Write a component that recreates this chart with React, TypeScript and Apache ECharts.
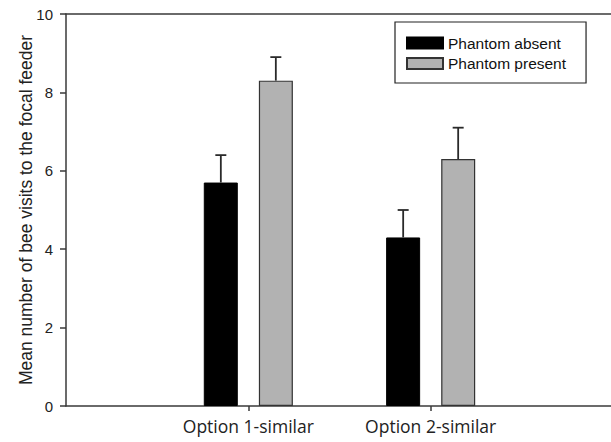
import React, { useEffect, useRef } from "react";
import * as echarts from "echarts";

const categories = ["", "Option 1-similar", "Option 2-similar", ""];
const seriesNames = ["Phantom absent", "Phantom present"];
const absentMeans = [5.7, 4.3];
const presentMeans = [8.3, 6.3];
const absentErr = [0.7, 0.7];
const presentErr = [0.6, 0.8];
const yTicks = [0, 2, 4, 6, 8, 10];

export default function App() {
  const ref = useRef<HTMLDivElement>(null);
  useEffect(() => {
    if (!ref.current) return;
    const chart = echarts.init(ref.current, undefined, { renderer: "svg" });
    const pad = (arr: number[]) => ["-", ...arr, "-"];
    const errData: number[][] = [];
    absentMeans.forEach((m, i) => errData.push([i + 1, m, m + absentErr[i], -1]));
    presentMeans.forEach((m, i) => errData.push([i + 1, m, m + presentErr[i], 1]));
    const axisColor = "#3a3a3a";
    chart.setOption({
      animation: false,
      backgroundColor: "#fff",
      grid: {
        left: 66,
        right: 87,
        top: 14,
        bottom: 36,
        show: false,
        outerBoundsMode: "none",
        containLabel: false,
      },
      legend: {
        orient: "vertical",
        left: 395,
        top: 22,
        data: seriesNames,
        icon: "rect",
        itemWidth: 36,
        itemHeight: 11,
        itemGap: 4.5,
        padding: [13, 20, 11.5, 11],
        borderColor: "#222",
        borderWidth: 1.2,
        textStyle: {
          fontFamily: "Liberation Sans, Arial",
          fontSize: 15.5,
          lineHeight: 15,
          color: "#111",
        },
      },
      xAxis: [
        {
          type: "category",
          data: categories,
          boundaryGap: false,
          axisLine: { lineStyle: { color: axisColor, width: 1.5 } },
          axisTick: {
            show: true,
            length: 5,
            interval: (idx: number) => idx === 1 || idx === 2,
            lineStyle: { color: axisColor, width: 1.5 },
          },
          axisLabel: {
            interval: 0,
            margin: 11,
            fontFamily: "Open Sans",
            fontSize: 17.5,
            color: "#222",
          },
          splitLine: { show: false },
        },
        {
          type: "category",
          position: "top",
          data: categories,
          boundaryGap: false,
          axisLine: { show: true, lineStyle: { color: axisColor, width: 1.5 } },
          axisTick: { show: false },
          axisLabel: { show: false },
          splitLine: { show: false },
        },
      ],
      yAxis: {
        type: "value",
        min: yTicks[0],
        max: yTicks[yTicks.length - 1],
        interval: 2,
        name: "Mean number of bee visits to the focal feeder",
        nameLocation: "middle",
        nameGap: 31,
        nameMoveOverlap: false,
        nameTextStyle: {
          fontFamily: "Liberation Sans, Arial",
          fontSize: 17.5,
          color: "#222",
        },
        axisLine: { show: true, lineStyle: { color: axisColor, width: 1.5 } },
        axisTick: { show: true, length: 6, lineStyle: { color: axisColor, width: 1.5 } },
        axisLabel: {
          margin: 13,
          fontFamily: "Liberation Sans, Arial",
          fontSize: 15,
          color: "#222",
        },
        splitLine: { show: false },
      },
      series: [
        {
          name: seriesNames[0],
          type: "bar",
          data: pad(absentMeans),
          barWidth: 34,
          barGap: "62%",
          itemStyle: { color: "#000", borderColor: "#000", borderWidth: 1 },
        },
        {
          name: seriesNames[1],
          type: "bar",
          data: pad(presentMeans),
          barWidth: 34,
          barGap: "62%",
          itemStyle: { color: "#b2b2b2", borderColor: "#333", borderWidth: 1.2 },
        },
        {
          type: "custom",
          data: errData,
          z: 10,
          renderItem: (params: any, api: any) => {
            const c = api.value(0);
            const base = api.coord([c, api.value(1)]);
            const top = api.coord([c, api.value(2)]);
            const x = base[0] + api.value(3) * 27.5;
            const half = 5.5;
            const style = { stroke: "#2a2a2a", lineWidth: 1.8 };
            return {
              type: "group",
              children: [
                { type: "line", shape: { x1: x, y1: base[1], x2: x, y2: top[1] }, style },
                { type: "line", shape: { x1: x - half, y1: top[1], x2: x + half, y2: top[1] }, style },
              ],
            };
          },
        },
      ],
    });
    return () => chart.dispose();
  }, []);
  return (
    <div
      style={{ position: "absolute", left: 0, top: 0, width: 611, height: 442, overflow: "hidden" }}
    >
      <div ref={ref} style={{ width: 700, height: 442 }} />
    </div>
  );
}
